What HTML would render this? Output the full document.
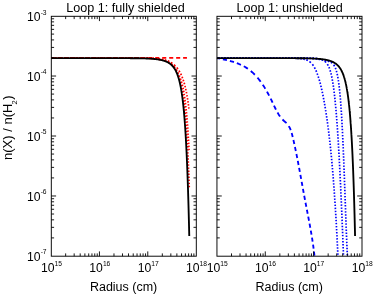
<!DOCTYPE html>
<html><head><meta charset="utf-8"><title>plot</title>
<style>html,body{margin:0;padding:0;background:#fff;}body{width:374px;height:294px;position:relative;overflow:hidden;font-family:"Liberation Sans",sans-serif;}</style>
</head><body>
<svg width="374" height="294" viewBox="0 0 374 294" style="position:absolute;left:0;top:0;will-change:transform">
<rect width="374" height="294" fill="#fff"/>
<g fill="none" stroke-linejoin="round">
<path transform="translate(0 0)" d="M51.30 57.85L52.45 57.85L53.60 57.85L54.75 57.85M57.65 57.85L59.00 57.85L60.35 57.85L61.70 57.85M64.65 57.85L66.00 57.85L67.35 57.85L68.70 57.85M71.60 57.85L72.95 57.85L74.30 57.85L75.65 57.85M78.55 57.85L79.90 57.85L81.25 57.85L82.60 57.85M85.55 57.85L86.90 57.85L88.25 57.85L89.60 57.85M92.50 57.85L93.85 57.85L95.20 57.85L96.55 57.85M99.50 57.85L100.85 57.85L102.20 57.85L103.55 57.85M106.45 57.85L107.80 57.85L109.15 57.85L110.50 57.85M113.40 57.85L114.75 57.85L116.10 57.85L117.45 57.85M120.40 57.85L121.75 57.85L123.10 57.85L124.45 57.85M127.35 57.85L128.70 57.85L130.05 57.85L131.40 57.85M134.35 57.85L135.70 57.85L137.05 57.85L138.40 57.85M141.30 57.85L142.65 57.85L144.00 57.85L145.35 57.85M148.25 57.85L149.60 57.85L150.95 57.85L152.30 57.85M155.25 57.85L156.60 57.85L157.95 57.85L159.30 57.85M162.20 57.85L163.55 57.85L164.90 57.85L166.25 57.85M169.20 57.85L170.55 57.85L171.90 57.85L173.25 57.85M176.15 57.85L177.50 57.85L178.85 57.85L180.20 57.85M183.10 57.85L184.40 57.85L185.70 57.85L186.95 57.85" stroke="#ff0000" stroke-width="1.85"/>
<path transform="translate(0 0)" d="M51.90 57.85L52.40 57.85L52.90 57.85L53.35 57.85M54.95 57.85L55.45 57.85L55.95 57.85L56.40 57.85M58.00 57.85L58.50 57.85L59.00 57.85L59.45 57.85M61.05 57.85L61.55 57.85L62.05 57.85L62.50 57.85M64.10 57.85L64.60 57.85L65.10 57.85L65.55 57.85M67.15 57.85L67.65 57.85L68.15 57.85L68.60 57.85M70.20 57.85L70.70 57.85L71.20 57.85L71.65 57.85M73.25 57.85L73.75 57.85L74.25 57.85L74.70 57.85M76.30 57.85L76.80 57.85L77.30 57.85L77.75 57.85M79.35 57.85L79.85 57.85L80.35 57.85L80.80 57.85M82.40 57.85L82.90 57.85L83.40 57.85L83.85 57.85M85.45 57.85L85.95 57.85L86.45 57.85L86.90 57.85M88.50 57.85L89.00 57.85L89.50 57.85L89.95 57.85M91.55 57.85L92.05 57.85L92.55 57.85L93.00 57.85M94.60 57.85L95.10 57.85L95.60 57.85L96.05 57.85M97.65 57.85L98.15 57.85L98.65 57.85L99.10 57.85M100.70 57.85L101.20 57.85L101.70 57.85L102.15 57.85M103.75 57.85L104.25 57.85L104.75 57.85L105.20 57.85M106.80 57.85L107.30 57.85L107.80 57.85L108.25 57.85M109.85 57.85L110.35 57.85L110.85 57.85L111.30 57.85M112.90 57.85L113.40 57.85L113.90 57.85L114.35 57.85M115.95 57.85L116.45 57.85L116.95 57.85L117.40 57.85M119.00 57.85L119.50 57.85L120.00 57.85L120.45 57.85M122.05 57.85L122.55 57.86L123.05 57.86L123.50 57.86M125.10 57.86L125.60 57.86L126.10 57.86L126.55 57.86M128.15 57.86L128.65 57.86L129.15 57.86L129.60 57.86M131.20 57.87L131.70 57.87L132.20 57.87L132.65 57.87M134.25 57.88L134.75 57.88L135.25 57.88L135.70 57.88M137.30 57.89L137.80 57.89L138.30 57.90L138.75 57.90M140.35 57.91L140.85 57.92L141.35 57.92L141.80 57.93M143.40 57.95L143.90 57.95L144.40 57.96L144.85 57.97M146.45 58.00L146.95 58.01L147.45 58.02L147.90 58.03M149.50 58.08L150.00 58.09L150.50 58.11L150.95 58.13M152.55 58.20L153.05 58.22L153.55 58.25L154.00 58.28M155.60 58.38L156.10 58.42L156.60 58.46L157.05 58.50M158.65 58.67L159.15 58.73L159.65 58.80L160.10 58.86M161.70 59.11L162.20 59.21L162.70 59.30L163.15 59.40M164.75 59.79L165.25 59.94L165.75 60.09L166.20 60.24M167.80 60.84L168.30 61.06L168.80 61.29L169.25 61.52M170.85 62.41L171.35 62.72L171.85 63.05L172.30 63.37M173.90 64.62L174.40 65.07L174.90 65.53L175.35 65.98M176.79 67.58L177.19 68.08L177.58 68.58L177.91 69.03M178.98 70.63L179.28 71.13L179.58 71.63L179.83 72.08M180.67 73.68L180.91 74.18L181.15 74.68L181.35 75.13M182.03 76.73L182.23 77.23L182.42 77.73L182.59 78.18M183.16 79.78L183.33 80.28L183.49 80.78L183.64 81.23M184.12 82.83L184.27 83.33L184.41 83.83L184.53 84.28M184.95 85.88L185.08 86.38L185.20 86.88L185.31 87.33M185.68 88.93L185.79 89.43L185.90 89.93L186.00 90.38M186.33 91.98L186.43 92.48L186.52 92.98L186.61 93.43M186.91 95.03L186.99 95.53L187.08 96.03L187.16 96.48M187.43 98.08L187.51 98.58L187.59 99.08L187.66 99.53M187.91 101.13L187.98 101.63L188.05 102.13L188.12 102.58M188.34 104.18L188.41 104.68L188.48 105.18L188.54 105.63M188.75 107.23L188.81 107.73L188.87 108.23L188.93 108.68" stroke="#ff0000" stroke-width="1.7"/>
<path transform="translate(0 0)" d="M51.90 57.85L52.40 57.85L52.90 57.85L53.35 57.85M54.95 57.85L55.45 57.85L55.95 57.85L56.40 57.85M58.00 57.85L58.50 57.85L59.00 57.85L59.45 57.85M61.05 57.85L61.55 57.85L62.05 57.85L62.50 57.85M64.10 57.85L64.60 57.85L65.10 57.85L65.55 57.85M67.15 57.85L67.65 57.85L68.15 57.85L68.60 57.85M70.20 57.85L70.70 57.85L71.20 57.85L71.65 57.85M73.25 57.85L73.75 57.85L74.25 57.85L74.70 57.85M76.30 57.85L76.80 57.85L77.30 57.85L77.75 57.85M79.35 57.85L79.85 57.85L80.35 57.85L80.80 57.85M82.40 57.85L82.90 57.85L83.40 57.85L83.85 57.85M85.45 57.85L85.95 57.85L86.45 57.85L86.90 57.85M88.50 57.85L89.00 57.85L89.50 57.85L89.95 57.85M91.55 57.85L92.05 57.85L92.55 57.85L93.00 57.85M94.60 57.85L95.10 57.85L95.60 57.85L96.05 57.85M97.65 57.85L98.15 57.85L98.65 57.85L99.10 57.85M100.70 57.85L101.20 57.85L101.70 57.85L102.15 57.85M103.75 57.85L104.25 57.85L104.75 57.85L105.20 57.85M106.80 57.85L107.30 57.85L107.80 57.85L108.25 57.85M109.85 57.85L110.35 57.85L110.85 57.85L111.30 57.85M112.90 57.86L113.40 57.86L113.90 57.86L114.35 57.86M115.95 57.86L116.45 57.86L116.95 57.86L117.40 57.86M119.00 57.86L119.50 57.86L120.00 57.86L120.45 57.86M122.05 57.87L122.55 57.87L123.05 57.87L123.50 57.87M125.10 57.88L125.60 57.88L126.10 57.88L126.55 57.88M128.15 57.89L128.65 57.89L129.15 57.89L129.60 57.89M131.20 57.90L131.70 57.91L132.20 57.91L132.65 57.91M134.25 57.92L134.75 57.93L135.25 57.93L135.70 57.94M137.30 57.96L137.80 57.96L138.30 57.97L138.75 57.98M140.35 58.00L140.85 58.01L141.35 58.02L141.80 58.03M143.40 58.07L143.90 58.08L144.40 58.10L144.85 58.11M146.45 58.17L146.95 58.18L147.45 58.20L147.90 58.22M149.50 58.30L150.00 58.33L150.50 58.36L150.95 58.39M152.55 58.50L153.05 58.54L153.55 58.58L154.00 58.62M155.60 58.78L156.10 58.83L156.60 58.89L157.05 58.95M158.65 59.17L159.15 59.26L159.65 59.34L160.10 59.42M161.70 59.75L162.20 59.86L162.70 59.99L163.15 60.11M164.75 60.59L165.25 60.76L165.75 60.94L166.20 61.12M167.80 61.80L168.30 62.05L168.80 62.31L169.25 62.56M170.85 63.60L171.35 63.98L171.85 64.38L172.30 64.77M173.84 66.34L174.27 66.84L174.66 67.34L175.00 67.79M176.06 69.39L176.36 69.89L176.65 70.39L176.90 70.84M177.71 72.44L177.95 72.94L178.17 73.44L178.36 73.89M179.10 75.49L179.32 75.99L179.53 76.49L179.71 76.94M180.32 78.54L180.50 79.04L180.68 79.54L180.83 79.99M181.35 81.59L181.50 82.09L181.65 82.59L181.78 83.04M182.23 84.64L182.37 85.14L182.50 85.64L182.61 86.09M183.00 87.69L183.12 88.19L183.23 88.69L183.31 89.14M183.61 90.74L183.69 91.24L183.78 91.74L183.86 92.19M184.12 93.79L184.20 94.29L184.28 94.79L184.35 95.24M184.59 96.84L184.66 97.34L184.73 97.84L184.80 98.29M185.01 99.89L185.08 100.39L185.15 100.89L185.20 101.34M185.40 102.94L185.47 103.44L185.53 103.94L185.58 104.39M185.77 105.99L185.82 106.49L185.88 106.99L185.93 107.44M186.10 109.04L186.15 109.54L186.20 110.04L186.25 110.49M186.41 112.09L186.46 112.59L186.51 113.09L186.55 113.54M186.70 115.14L186.75 115.64L186.80 116.14L186.84 116.59M186.98 118.19L187.02 118.69L187.07 119.19L187.10 119.64M187.24 121.24L187.28 121.74L187.32 122.24L187.36 122.69M187.48 124.29L187.52 124.79L187.56 125.29L187.59 125.74M187.71 127.34L187.74 127.84L187.78 128.34L187.81 128.79M187.92 130.39L187.95 130.89L187.98 131.39L188.01 131.84M188.12 133.44L188.15 133.94L188.18 134.44L188.21 134.89M188.30 136.49L188.33 136.99L188.36 137.49L188.39 137.94M188.49 139.54L188.51 140.04L188.54 140.54L188.57 140.99M188.66 142.59L188.69 143.09L188.71 143.59L188.74 144.04M188.82 145.64L188.85 146.14L188.88 146.64L188.90 147.09M188.98 148.69L189.01 149.19L189.04 149.69L189.06 150.14" stroke="#ff0000" stroke-width="1.7"/>
<path transform="translate(0 0)" d="M51.90 57.85L52.40 57.85L52.90 57.85L53.35 57.85M54.95 57.85L55.45 57.85L55.95 57.85L56.40 57.85M58.00 57.85L58.50 57.85L59.00 57.85L59.45 57.85M61.05 57.85L61.55 57.85L62.05 57.85L62.50 57.85M64.10 57.85L64.60 57.85L65.10 57.85L65.55 57.85M67.15 57.85L67.65 57.85L68.15 57.85L68.60 57.85M70.20 57.85L70.70 57.85L71.20 57.85L71.65 57.85M73.25 57.85L73.75 57.85L74.25 57.85L74.70 57.85M76.30 57.85L76.80 57.85L77.30 57.85L77.75 57.85M79.35 57.85L79.85 57.85L80.35 57.85L80.80 57.85M82.40 57.85L82.90 57.85L83.40 57.85L83.85 57.85M85.45 57.85L85.95 57.85L86.45 57.85L86.90 57.85M88.50 57.85L89.00 57.85L89.50 57.85L89.95 57.85M91.55 57.85L92.05 57.85L92.55 57.85L93.00 57.85M94.60 57.85L95.10 57.85L95.60 57.85L96.05 57.85M97.65 57.85L98.15 57.85L98.65 57.85L99.10 57.85M100.70 57.85L101.20 57.85L101.70 57.85L102.15 57.85M103.75 57.85L104.25 57.85L104.75 57.85L105.20 57.85M106.80 57.85L107.30 57.85L107.80 57.85L108.25 57.85M109.85 57.85L110.35 57.85L110.85 57.85L111.30 57.85M112.90 57.86L113.40 57.86L113.90 57.86L114.35 57.86M115.95 57.86L116.45 57.86L116.95 57.86L117.40 57.86M119.00 57.86L119.50 57.86L120.00 57.86L120.45 57.86M122.05 57.87L122.55 57.87L123.05 57.87L123.50 57.87M125.10 57.88L125.60 57.88L126.10 57.88L126.55 57.88M128.15 57.89L128.65 57.89L129.15 57.89L129.60 57.89M131.20 57.90L131.70 57.91L132.20 57.91L132.65 57.91M134.25 57.93L134.75 57.93L135.25 57.93L135.70 57.94M137.30 57.96L137.80 57.96L138.30 57.97L138.75 57.98M140.35 58.01L140.85 58.01L141.35 58.02L141.80 58.03M143.40 58.07L143.90 58.09L144.40 58.10L144.85 58.11M146.45 58.17L146.95 58.19L147.45 58.21L147.90 58.23M149.50 58.31L150.00 58.34L150.50 58.37L150.95 58.39M152.55 58.51L153.05 58.55L153.55 58.59L154.00 58.63M155.60 58.80L156.10 58.85L156.60 58.91L157.05 58.97M158.65 59.21L159.15 59.29L159.65 59.38L160.10 59.46M161.70 59.80L162.20 59.92L162.70 60.05L163.15 60.17M164.75 60.67L165.25 60.85L165.75 61.04L166.20 61.22M167.80 61.95L168.30 62.21L168.80 62.49L169.25 62.77M170.85 63.89L171.35 64.30L171.85 64.74L172.30 65.17M173.74 66.77L174.13 67.27L174.49 67.77L174.80 68.22M175.79 69.82L176.07 70.32L176.34 70.82L176.57 71.27M177.33 72.87L177.55 73.37L177.76 73.87L177.94 74.32M178.56 75.92L178.74 76.42L178.91 76.92L179.07 77.37M179.57 78.97L179.72 79.47L179.87 79.97L180.00 80.42M180.42 82.02L180.55 82.52L180.68 83.02L180.79 83.47M181.16 85.07L181.27 85.57L181.37 86.07L181.47 86.52M181.80 88.12L181.89 88.62L181.99 89.12L182.07 89.57M182.36 91.17L182.44 91.67L182.53 92.17L182.60 92.62M182.86 94.22L182.94 94.72L183.01 95.22L183.08 95.67M183.31 97.27L183.38 97.77L183.45 98.27L183.51 98.72M183.73 100.32L183.79 100.82L183.85 101.32L183.91 101.77M184.11 103.37L184.17 103.87L184.22 104.37L184.28 104.82M184.46 106.42L184.51 106.92L184.57 107.42L184.62 107.87M184.78 109.47L184.83 109.97L184.89 110.47L184.93 110.92M185.09 112.52L185.14 113.02L185.18 113.52L185.23 113.97M185.37 115.57L185.42 116.07L185.46 116.57L185.50 117.02M185.64 118.62L185.68 119.12L185.72 119.62L185.76 120.07M185.89 121.67L185.93 122.17L185.97 122.67L186.01 123.12M186.13 124.72L186.17 125.22L186.21 125.72L186.24 126.17M186.36 127.77L186.39 128.27L186.43 128.77L186.46 129.22M186.57 130.82L186.61 131.32L186.64 131.82L186.67 132.27M186.78 133.87L186.81 134.37L186.84 134.87L186.87 135.32M186.97 136.92L187.01 137.42L187.04 137.92L187.06 138.37M187.16 139.97L187.19 140.47L187.22 140.97L187.25 141.42M187.34 143.02L187.37 143.52L187.40 144.02L187.42 144.47M187.51 146.07L187.54 146.57L187.57 147.07L187.59 147.52M187.68 149.12L187.70 149.62L187.73 150.12L187.75 150.57M187.84 152.17L187.86 152.67L187.89 153.17L187.91 153.62M187.99 155.22L188.01 155.72L188.04 156.22L188.06 156.67M188.14 158.27L188.16 158.77L188.18 159.27L188.20 159.72M188.27 161.32L188.29 161.82L188.32 162.32L188.33 162.77M188.40 164.37L188.42 164.87L188.44 165.37L188.46 165.82M188.53 167.42L188.55 167.92L188.57 168.42L188.59 168.87M188.65 170.47L188.67 170.97L188.69 171.47L188.71 171.92M188.77 173.52L188.79 174.02L188.81 174.52L188.83 174.97M188.89 176.57L188.90 177.07L188.92 177.57L188.94 178.02M189.00 179.62L189.02 180.12L189.03 180.62L189.05 181.07M189.11 182.67L189.12 183.17L189.14 183.67L189.16 184.12M189.21 185.72L189.23 186.22L189.25 186.72L189.26 187.17" stroke="#ff0000" stroke-width="1.7"/>
<path d="M51.30 58.15 L51.32 58.15 L51.58 58.15 L51.83 58.15 L52.09 58.15 L52.35 58.15 L52.61 58.15 L52.87 58.15 L53.13 58.15 L53.39 58.15 L53.65 58.15 L53.91 58.15 L54.17 58.15 L54.43 58.15 L54.69 58.15 L54.95 58.15 L55.20 58.15 L55.46 58.15 L55.72 58.15 L55.98 58.15 L56.24 58.15 L56.50 58.15 L56.76 58.15 L57.02 58.15 L57.28 58.15 L57.54 58.15 L57.80 58.15 L58.06 58.15 L58.31 58.15 L58.57 58.15 L58.83 58.15 L59.09 58.15 L59.35 58.15 L59.61 58.15 L59.87 58.15 L60.13 58.15 L60.39 58.15 L60.65 58.15 L60.91 58.15 L61.17 58.15 L61.42 58.15 L61.68 58.15 L61.94 58.15 L62.20 58.15 L62.46 58.15 L62.72 58.15 L62.98 58.15 L63.24 58.15 L63.50 58.15 L63.76 58.15 L64.02 58.15 L64.28 58.15 L64.54 58.15 L64.79 58.15 L65.05 58.15 L65.31 58.15 L65.57 58.15 L65.83 58.15 L66.09 58.15 L66.35 58.15 L66.61 58.15 L66.87 58.15 L67.13 58.15 L67.39 58.15 L67.65 58.15 L67.90 58.15 L68.16 58.15 L68.42 58.15 L68.68 58.15 L68.94 58.15 L69.20 58.15 L69.46 58.15 L69.72 58.15 L69.98 58.15 L70.24 58.15 L70.50 58.15 L70.76 58.15 L71.01 58.15 L71.27 58.15 L71.53 58.15 L71.79 58.15 L72.05 58.15 L72.31 58.15 L72.57 58.15 L72.83 58.15 L73.09 58.15 L73.35 58.15 L73.61 58.15 L73.87 58.15 L74.12 58.15 L74.38 58.15 L74.64 58.15 L74.90 58.15 L75.16 58.15 L75.42 58.15 L75.68 58.15 L75.94 58.15 L76.20 58.15 L76.46 58.15 L76.72 58.15 L76.98 58.15 L77.24 58.15 L77.49 58.15 L77.75 58.15 L78.01 58.15 L78.27 58.15 L78.53 58.15 L78.79 58.15 L79.05 58.15 L79.31 58.15 L79.57 58.15 L79.83 58.15 L80.09 58.15 L80.35 58.15 L80.60 58.15 L80.86 58.15 L81.12 58.15 L81.38 58.15 L81.64 58.15 L81.90 58.15 L82.16 58.15 L82.42 58.15 L82.68 58.15 L82.94 58.15 L83.20 58.15 L83.46 58.15 L83.71 58.15 L83.97 58.15 L84.23 58.15 L84.49 58.15 L84.75 58.15 L85.01 58.15 L85.27 58.15 L85.53 58.15 L85.79 58.15 L86.05 58.15 L86.31 58.15 L86.57 58.15 L86.82 58.15 L87.08 58.15 L87.34 58.15 L87.60 58.15 L87.86 58.15 L88.12 58.15 L88.38 58.15 L88.64 58.15 L88.90 58.15 L89.16 58.15 L89.42 58.15 L89.68 58.15 L89.94 58.15 L90.19 58.15 L90.45 58.15 L90.71 58.15 L90.97 58.15 L91.23 58.15 L91.49 58.15 L91.75 58.15 L92.01 58.15 L92.27 58.15 L92.53 58.15 L92.79 58.15 L93.05 58.15 L93.30 58.15 L93.56 58.15 L93.82 58.15 L94.08 58.15 L94.34 58.15 L94.60 58.15 L94.86 58.15 L95.12 58.15 L95.38 58.15 L95.64 58.15 L95.90 58.15 L96.16 58.15 L96.41 58.15 L96.67 58.15 L96.93 58.15 L97.19 58.15 L97.45 58.15 L97.71 58.15 L97.97 58.15 L98.23 58.15 L98.49 58.15 L98.75 58.15 L99.01 58.15 L99.27 58.15 L99.52 58.15 L99.78 58.15 L100.04 58.15 L100.30 58.15 L100.56 58.15 L100.82 58.15 L101.08 58.15 L101.34 58.15 L101.60 58.15 L101.86 58.15 L102.12 58.15 L102.38 58.15 L102.64 58.15 L102.89 58.15 L103.15 58.15 L103.41 58.15 L103.67 58.15 L103.93 58.15 L104.19 58.15 L104.45 58.15 L104.71 58.15 L104.97 58.15 L105.23 58.15 L105.49 58.15 L105.75 58.15 L106.00 58.15 L106.26 58.15 L106.52 58.15 L106.78 58.15 L107.04 58.15 L107.30 58.15 L107.56 58.15 L107.82 58.15 L108.08 58.15 L108.34 58.15 L108.60 58.15 L108.86 58.15 L109.11 58.15 L109.37 58.15 L109.63 58.15 L109.89 58.15 L110.15 58.15 L110.41 58.15 L110.67 58.15 L110.93 58.15 L111.19 58.15 L111.45 58.15 L111.71 58.16 L111.97 58.16 L112.23 58.16 L112.48 58.16 L112.74 58.16 L113.00 58.16 L113.26 58.16 L113.52 58.16 L113.78 58.16 L114.04 58.16 L114.30 58.16 L114.56 58.16 L114.82 58.16 L115.08 58.16 L115.34 58.16 L115.59 58.16 L115.85 58.16 L116.11 58.16 L116.37 58.16 L116.63 58.16 L116.89 58.16 L117.15 58.16 L117.41 58.16 L117.67 58.16 L117.93 58.16 L118.19 58.16 L118.45 58.16 L118.70 58.16 L118.96 58.16 L119.22 58.16 L119.48 58.16 L119.74 58.16 L120.00 58.16 L120.26 58.16 L120.52 58.16 L120.78 58.17 L121.04 58.17 L121.30 58.17 L121.56 58.17 L121.81 58.17 L122.07 58.17 L122.33 58.17 L122.59 58.17 L122.85 58.17 L123.11 58.17 L123.37 58.17 L123.63 58.17 L123.89 58.17 L124.15 58.17 L124.41 58.17 L124.67 58.17 L124.93 58.17 L125.18 58.18 L125.44 58.18 L125.70 58.18 L125.96 58.18 L126.22 58.18 L126.48 58.18 L126.74 58.18 L127.00 58.18 L127.26 58.18 L127.52 58.18 L127.78 58.18 L128.04 58.19 L128.29 58.19 L128.55 58.19 L128.81 58.19 L129.07 58.19 L129.33 58.19 L129.59 58.19 L129.85 58.19 L130.11 58.20 L130.37 58.20 L130.63 58.20 L130.89 58.20 L131.15 58.20 L131.40 58.20 L131.66 58.21 L131.92 58.21 L132.18 58.21 L132.44 58.21 L132.70 58.21 L132.96 58.21 L133.22 58.22 L133.48 58.22 L133.74 58.22 L134.00 58.22 L134.26 58.23 L134.51 58.23 L134.77 58.23 L135.03 58.23 L135.29 58.24 L135.55 58.24 L135.81 58.24 L136.07 58.24 L136.33 58.25 L136.59 58.25 L136.85 58.25 L137.11 58.26 L137.37 58.26 L137.63 58.26 L137.88 58.27 L138.14 58.27 L138.40 58.27 L138.66 58.28 L138.92 58.28 L139.18 58.29 L139.44 58.29 L139.70 58.29 L139.96 58.30 L140.22 58.30 L140.48 58.31 L140.74 58.31 L140.99 58.32 L141.25 58.32 L141.51 58.33 L141.77 58.34 L142.03 58.34 L142.29 58.35 L142.55 58.35 L142.81 58.36 L143.07 58.37 L143.33 58.37 L143.59 58.38 L143.85 58.39 L144.10 58.40 L144.36 58.40 L144.62 58.41 L144.88 58.42 L145.14 58.43 L145.40 58.44 L145.66 58.45 L145.92 58.45 L146.18 58.46 L146.44 58.47 L146.70 58.48 L146.96 58.49 L147.22 58.51 L147.47 58.52 L147.73 58.53 L147.99 58.54 L148.25 58.55 L148.51 58.56 L148.77 58.58 L149.03 58.59 L149.29 58.60 L149.55 58.62 L149.81 58.63 L150.07 58.65 L150.33 58.66 L150.58 58.68 L150.84 58.70 L151.10 58.71 L151.36 58.73 L151.62 58.75 L151.88 58.77 L152.14 58.79 L152.40 58.81 L152.66 58.83 L152.92 58.85 L153.18 58.87 L153.44 58.90 L153.69 58.92 L153.95 58.94 L154.21 58.97 L154.47 58.99 L154.73 59.02 L154.99 59.05 L155.25 59.08 L155.51 59.11 L155.77 59.14 L156.03 59.17 L156.29 59.20 L156.55 59.23 L156.80 59.27 L157.06 59.30 L157.32 59.34 L157.58 59.37 L157.84 59.41 L158.10 59.45 L158.36 59.49 L158.62 59.53 L158.88 59.58 L159.14 59.62 L159.40 59.67 L159.66 59.72 L159.92 59.77 L160.17 59.82 L160.43 59.87 L160.69 59.92 L160.95 59.98 L161.21 60.03 L161.47 60.09 L161.73 60.15 L161.99 60.22 L162.25 60.28 L162.51 60.35 L162.77 60.42 L163.03 60.49 L163.28 60.56 L163.54 60.64 L163.80 60.72 L164.06 60.80 L164.32 60.88 L164.58 60.97 L164.84 61.06 L165.10 61.15 L165.36 61.25 L165.62 61.35 L165.88 61.45 L166.14 61.56 L166.39 61.67 L166.65 61.78 L166.91 61.90 L167.17 62.02 L167.43 62.15 L167.69 62.28 L167.95 62.42 L168.21 62.56 L168.47 62.71 L168.73 62.87 L168.99 63.03 L169.25 63.19 L169.50 63.36 L169.76 63.54 L170.02 63.73 L170.28 63.93 L170.54 64.13 L170.80 64.34 L171.06 64.56 L171.32 64.79 L171.58 65.03 L171.84 65.28 L172.10 65.54 L172.36 65.81 L172.59 66.07 L172.83 66.33 L173.06 66.61 L173.27 66.87 L173.49 67.14 L173.70 67.42 L173.89 67.68 L174.08 67.95 L174.26 68.22 L174.45 68.50 L174.62 68.76 L174.78 69.03 L174.95 69.30 L175.11 69.58 L175.28 69.87 L175.42 70.12 L175.56 70.38 L175.70 70.65 L175.84 70.93 L175.98 71.21 L176.13 71.50 L176.27 71.80 L176.39 72.05 L176.50 72.31 L176.62 72.58 L176.74 72.85 L176.86 73.13 L176.97 73.41 L177.09 73.70 L177.21 74.00 L177.33 74.31 L177.45 74.62 L177.54 74.87 L177.63 75.13 L177.73 75.40 L177.82 75.67 L177.92 75.94 L178.01 76.22 L178.11 76.50 L178.20 76.79 L178.29 77.09 L178.39 77.39 L178.48 77.70 L178.58 78.01 L178.67 78.33 L178.76 78.65 L178.86 78.99 L178.93 79.24 L179.00 79.50 L179.07 79.76 L179.14 80.02 L179.21 80.29 L179.28 80.56 L179.35 80.84 L179.42 81.11 L179.50 81.40 L179.57 81.69 L179.64 81.98 L179.71 82.28 L179.78 82.58 L179.85 82.88 L179.92 83.19 L179.99 83.51 L180.06 83.83 L180.13 84.15 L180.20 84.48 L180.27 84.82 L180.34 85.16 L180.41 85.50 L180.48 85.85 L180.56 86.21 L180.63 86.57 L180.70 86.94 L180.77 87.31 L180.81 87.56 L180.86 87.81 L180.91 88.07 L180.96 88.33 L181.00 88.59 L181.05 88.85 L181.10 89.12 L181.14 89.39 L181.19 89.66 L181.24 89.94 L181.29 90.22 L181.33 90.50 L181.38 90.79 L181.43 91.07 L181.47 91.36 L181.52 91.66 L181.57 91.95 L181.62 92.25 L181.66 92.56 L181.71 92.86 L181.76 93.17 L181.80 93.48 L181.85 93.80 L181.90 94.12 L181.95 94.44 L181.99 94.77 L182.04 95.10 L182.09 95.43 L182.13 95.77 L182.18 96.11 L182.23 96.45 L182.28 96.80 L182.32 97.15 L182.37 97.51 L182.42 97.87 L182.46 98.23 L182.51 98.59 L182.56 98.97 L182.61 99.34 L182.65 99.72 L182.70 100.10 L182.75 100.49 L182.79 100.88 L182.84 101.28 L182.89 101.68 L182.94 102.08 L182.98 102.49 L183.03 102.91 L183.08 103.32 L183.12 103.75 L183.17 104.17 L183.22 104.61 L183.27 105.04 L183.31 105.49 L183.36 105.93 L183.41 106.38 L183.45 106.84 L183.50 107.30 L183.55 107.77 L183.60 108.24 L183.64 108.72 L183.69 109.20 L183.74 109.69 L183.78 110.19 L183.83 110.69 L183.85 110.94 L183.88 111.19 L183.90 111.45 L183.93 111.70 L183.95 111.96 L183.97 112.22 L184.00 112.48 L184.02 112.74 L184.04 113.01 L184.07 113.27 L184.09 113.54 L184.11 113.81 L184.14 114.08 L184.16 114.35 L184.18 114.62 L184.21 114.89 L184.23 115.17 L184.25 115.45 L184.28 115.73 L184.30 116.01 L184.33 116.29 L184.35 116.57 L184.37 116.86 L184.40 117.15 L184.42 117.44 L184.44 117.73 L184.47 118.02 L184.49 118.31 L184.51 118.61 L184.54 118.91 L184.56 119.20 L184.58 119.51 L184.61 119.81 L184.63 120.11 L184.66 120.42 L184.68 120.73 L184.70 121.04 L184.73 121.35 L184.75 121.66 L184.77 121.98 L184.80 122.29 L184.82 122.61 L184.84 122.93 L184.87 123.25 L184.89 123.58 L184.91 123.90 L184.94 124.23 L184.96 124.56 L184.99 124.89 L185.01 125.23 L185.03 125.56 L185.06 125.90 L185.08 126.24 L185.10 126.58 L185.13 126.93 L185.15 127.27 L185.17 127.62 L185.20 127.97 L185.22 128.32 L185.24 128.68 L185.27 129.03 L185.29 129.39 L185.32 129.75 L185.34 130.12 L185.36 130.48 L185.39 130.85 L185.41 131.22 L185.43 131.59 L185.46 131.96 L185.48 132.34 L185.50 132.71 L185.53 133.09 L185.55 133.48 L185.57 133.86 L185.60 134.25 L185.62 134.64 L185.65 135.03 L185.67 135.42 L185.69 135.82 L185.72 136.22 L185.74 136.62 L185.76 137.02 L185.79 137.43 L185.81 137.84 L185.83 138.25 L185.86 138.66 L185.88 139.08 L185.90 139.50 L185.93 139.92 L185.95 140.34 L185.97 140.77 L186.00 141.20 L186.02 141.63 L186.05 142.06 L186.07 142.50 L186.09 142.94 L186.12 143.38 L186.14 143.82 L186.16 144.27 L186.19 144.72 L186.21 145.17 L186.23 145.63 L186.26 146.09 L186.28 146.55 L186.30 147.01 L186.33 147.48 L186.35 147.95 L186.38 148.42 L186.40 148.90 L186.42 149.37 L186.45 149.86 L186.47 150.34 L186.49 150.83 L186.52 151.32 L186.54 151.81 L186.56 152.31 L186.59 152.80 L186.61 153.31 L186.63 153.81 L186.66 154.32 L186.68 154.83 L186.71 155.35 L186.73 155.87 L186.75 156.39 L186.78 156.91 L186.80 157.44 L186.82 157.97 L186.85 158.50 L186.87 159.04 L186.89 159.58 L186.92 160.13 L186.94 160.68 L186.96 161.23 L186.99 161.78 L187.01 162.34 L187.04 162.90 L187.06 163.47 L187.08 164.03 L187.11 164.61 L187.13 165.18 L187.15 165.76 L187.18 166.34 L187.20 166.93 L187.22 167.52 L187.25 168.12 L187.27 168.71 L187.29 169.32 L187.32 169.92 L187.34 170.53 L187.37 171.14 L187.39 171.76 L187.41 172.38 L187.44 173.01 L187.46 173.64 L187.48 174.27 L187.51 174.91 L187.53 175.55 L187.55 176.19 L187.58 176.84 L187.60 177.49 L187.62 178.15 L187.65 178.81 L187.67 179.48 L187.69 180.15 L187.72 180.82 L187.74 181.50 L187.77 182.18 L187.79 182.87 L187.81 183.56 L187.84 184.26 L187.86 184.96 L187.88 185.67 L187.91 186.38 L187.93 187.09 L187.95 187.81 L187.98 188.53 L188.00 189.26 L188.02 189.99 L188.05 190.73 L188.07 191.47 L188.10 192.22 L188.12 192.97 L188.14 193.73 L188.17 194.49 L188.19 195.26 L188.21 196.03 L188.24 196.81 L188.26 197.59 L188.28 198.38 L188.31 199.17 L188.33 199.97 L188.35 200.77 L188.38 201.58 L188.40 202.39 L188.43 203.21 L188.45 204.03 L188.47 204.86 L188.50 205.70 L188.52 206.54 L188.54 207.38 L188.57 208.23 L188.59 209.09 L188.61 209.95 L188.64 210.82 L188.66 211.69 L188.68 212.57 L188.71 213.46 L188.73 214.35 L188.76 215.25 L188.78 216.15 L188.80 217.06 L188.83 217.97 L188.85 218.90 L188.87 219.82 L188.90 220.76 L188.92 221.70 L188.94 222.64 L188.97 223.59 L188.99 224.55 L189.01 225.52 L189.04 226.49 L189.06 227.47 L189.09 228.45 L189.11 229.44 L189.13 230.44 L189.16 231.44 L189.18 232.45 L189.20 233.47 L189.23 234.50 L189.25 235.53 L189.26 236.00" stroke="#000" stroke-width="1.85"/>
<path d="M217.00 58.05L218.00 58.24L219.00 58.44L220.00 58.63M222.90 59.24L224.25 59.53L225.60 59.84L226.95 60.16M229.90 60.92L231.25 61.30L232.60 61.70L233.95 62.13M236.85 63.14L238.20 63.67L239.55 64.23L240.90 64.83M243.80 66.28L245.15 67.05L246.50 67.88L247.85 68.78M250.80 71.03L252.15 72.19L253.50 73.44L254.84 74.77M257.48 77.67L258.60 79.02L259.66 80.37L260.68 81.72M262.74 84.67L263.63 86.02L264.48 87.37L265.30 88.72M266.99 91.62L267.73 92.97L268.46 94.32L269.17 95.67M270.64 98.57L271.30 99.92L271.95 101.27L272.59 102.62M273.98 105.57L274.62 106.92L275.28 108.27L275.96 109.62M277.52 112.52L278.31 113.87L279.14 115.22L280.05 116.57M282.48 119.52L283.83 120.77L285.18 121.93L286.53 123.18M288.80 126.08L289.56 127.43L290.20 128.78L290.74 130.13M291.68 133.03L292.05 134.38L292.39 135.73L292.72 137.08M293.41 140.03L293.72 141.38L294.02 142.73L294.33 144.08M294.96 146.98L295.25 148.33L295.53 149.68L295.82 151.03M296.42 153.98L296.69 155.33L296.96 156.68L297.23 158.03M297.80 160.93L298.05 162.28L298.31 163.63L298.57 164.98M299.11 167.88L299.36 169.23L299.61 170.58L299.86 171.93M300.40 174.88L300.64 176.23L300.89 177.58L301.13 178.93M301.66 181.83L301.90 183.18L302.15 184.53L302.39 185.88M302.93 188.83L303.18 190.18L303.42 191.53L303.67 192.88M304.21 195.78L304.47 197.13L304.72 198.48L304.98 199.83M305.53 202.73L305.79 204.08L306.05 205.43L306.32 206.78M306.89 209.73L307.15 211.08L307.41 212.43L307.67 213.78M308.23 216.68L308.49 218.03L308.75 219.38L309.00 220.73M309.56 223.68L309.80 225.03L310.05 226.38L310.30 227.73M310.81 230.63L311.05 231.98L311.28 233.33L311.51 234.68M311.98 237.58L312.20 238.93L312.41 240.28L312.62 241.63M313.05 244.58L313.24 245.93L313.43 247.28L313.61 248.63M313.97 251.53L314.14 252.88L314.29 254.23L314.44 255.58" stroke="#0000ff" stroke-width="1.85"/>
<path transform="translate(0 0)" d="M217.95 57.85L218.45 57.85L218.95 57.85L219.40 57.85M221.00 57.85L221.50 57.85L222.00 57.85L222.45 57.85M224.05 57.85L224.55 57.85L225.05 57.85L225.50 57.85M227.10 57.85L227.60 57.85L228.10 57.85L228.55 57.85M230.15 57.85L230.65 57.85L231.15 57.85L231.60 57.85M233.20 57.85L233.70 57.85L234.20 57.85L234.65 57.85M236.25 57.85L236.75 57.85L237.25 57.85L237.70 57.85M239.30 57.85L239.80 57.85L240.30 57.85L240.75 57.85M242.35 57.85L242.85 57.85L243.35 57.85L243.80 57.85M245.40 57.85L245.90 57.85L246.40 57.85L246.85 57.85M248.45 57.85L248.95 57.85L249.45 57.85L249.90 57.85M251.50 57.85L252.00 57.85L252.50 57.85L252.95 57.85M254.55 57.85L255.05 57.85L255.55 57.85L256.00 57.85M257.60 57.85L258.10 57.85L258.60 57.85L259.05 57.85M260.65 57.86L261.15 57.86L261.65 57.86L262.10 57.86M263.70 57.86L264.20 57.86L264.70 57.86L265.15 57.86M266.75 57.86L267.25 57.86L267.75 57.86L268.20 57.86M269.80 57.87L270.30 57.87L270.80 57.87L271.25 57.87M272.85 57.88L273.35 57.88L273.85 57.88L274.30 57.88M275.90 57.89L276.40 57.89L276.90 57.89L277.35 57.90M278.95 57.91L279.45 57.91L279.95 57.92L280.40 57.92M282.00 57.94L282.50 57.94L283.00 57.95L283.45 57.95M285.05 57.98L285.55 57.98L286.05 57.99L286.50 58.00M288.10 58.03L288.60 58.05L289.10 58.06L289.55 58.07M291.15 58.12L291.65 58.14L292.15 58.16L292.60 58.18M294.20 58.25L294.70 58.27L295.20 58.30L295.65 58.33M297.25 58.44L297.75 58.47L298.25 58.52L298.70 58.55M300.30 58.71L300.80 58.77L301.30 58.83L301.75 58.89M303.35 59.12L303.85 59.21L304.35 59.31L304.80 59.41M306.40 59.89L306.90 60.09L307.40 60.30L307.85 60.52M309.45 61.49L309.95 61.86L310.45 62.28L310.90 62.69M312.35 64.28L312.74 64.78L313.10 65.28L313.40 65.73M314.38 67.33L314.66 67.83L314.92 68.33L315.15 68.78M315.90 70.38L316.12 70.88L316.34 71.38L316.52 71.83M317.15 73.43L317.34 73.93L317.52 74.43L317.68 74.88M318.22 76.48L318.39 76.98L318.54 77.48L318.69 77.93M319.17 79.53L319.31 80.03L319.46 80.53L319.59 80.98M320.02 82.58L320.16 83.08L320.29 83.58L320.40 84.03M320.81 85.63L320.93 86.13L321.05 86.63L321.16 87.08M321.53 88.68L321.64 89.18L321.76 89.68L321.86 90.13M322.21 91.73L322.31 92.23L322.42 92.73L322.52 93.18M322.85 94.78L322.95 95.28L323.05 95.78L323.14 96.23M323.45 97.83L323.54 98.33L323.64 98.83L323.72 99.28M324.02 100.88L324.11 101.38L324.20 101.88L324.28 102.33M324.57 103.93L324.65 104.43L324.74 104.93L324.82 105.38M325.09 106.98L325.17 107.48L325.25 107.98L325.33 108.43M325.59 110.03L325.67 110.53L325.75 111.03L325.82 111.48M326.07 113.08L326.15 113.58L326.22 114.08L326.29 114.53M326.53 116.13L326.60 116.63L326.68 117.13L326.74 117.58M326.98 119.18L327.05 119.68L327.12 120.18L327.18 120.63M327.40 122.23L327.47 122.73L327.54 123.23L327.60 123.68M327.82 125.28L327.88 125.78L327.95 126.28L328.01 126.73M328.22 128.33L328.28 128.83L328.35 129.33L328.40 129.78M328.60 131.38L328.67 131.88L328.73 132.38L328.78 132.83M328.98 134.43L329.04 134.93L329.10 135.43L329.15 135.88M329.34 137.48L329.40 137.98L329.46 138.48L329.51 138.93M329.69 140.53L329.75 141.03L329.80 141.53L329.85 141.98M330.03 143.58L330.08 144.08L330.14 144.58L330.19 145.03M330.36 146.63L330.41 147.13L330.46 147.63L330.51 148.08M330.68 149.68L330.73 150.18L330.78 150.68L330.83 151.13M330.99 152.73L331.04 153.23L331.09 153.73L331.13 154.18M331.29 155.78L331.34 156.28L331.38 156.78L331.43 157.23M331.58 158.83L331.63 159.33L331.67 159.83L331.72 160.28M331.86 161.88L331.91 162.38L331.96 162.88L332.00 163.33M332.14 164.93L332.18 165.43L332.23 165.93L332.27 166.38M332.41 167.98L332.45 168.48L332.49 168.98L332.53 169.43M332.67 171.03L332.71 171.53L332.75 172.03L332.79 172.48M332.92 174.08L332.96 174.58L333.00 175.08L333.04 175.53M333.17 177.13L333.21 177.63L333.25 178.13L333.29 178.58M333.41 180.18L333.45 180.68L333.49 181.18L333.52 181.63M333.65 183.23L333.68 183.73L333.72 184.23L333.76 184.68M333.87 186.28L333.91 186.78L333.95 187.28L333.98 187.73M334.10 189.33L334.13 189.83L334.17 190.33L334.20 190.78M334.32 192.38L334.35 192.88L334.39 193.38L334.42 193.83M334.53 195.43L334.56 195.93L334.60 196.43L334.63 196.88M334.74 198.48L334.77 198.98L334.80 199.48L334.83 199.93M334.94 201.53L334.97 202.03L335.00 202.53L335.03 202.98M335.14 204.58L335.17 205.08L335.20 205.58L335.23 206.03M335.33 207.63L335.36 208.13L335.39 208.63L335.42 209.08M335.52 210.68L335.55 211.18L335.58 211.68L335.61 212.13M335.71 213.73L335.74 214.23L335.77 214.73L335.79 215.18M335.89 216.78L335.92 217.28L335.95 217.78L335.97 218.23M336.07 219.83L336.10 220.33L336.12 220.83L336.15 221.28M336.24 222.88L336.27 223.38L336.30 223.88L336.32 224.33M336.41 225.93L336.44 226.43L336.47 226.93L336.49 227.38M336.58 228.98L336.61 229.48L336.63 229.98L336.66 230.43M336.74 232.03L336.77 232.53L336.80 233.03L336.82 233.48M336.90 235.08L336.93 235.58L336.96 236.08L336.98 236.53M337.06 238.13L337.09 238.63L337.11 239.13L337.14 239.58M337.22 241.18L337.24 241.68L337.27 242.18L337.29 242.63M337.37 244.23L337.40 244.73L337.42 245.23L337.44 245.68M337.52 247.28L337.54 247.78L337.57 248.28L337.59 248.73M337.67 250.33L337.69 250.83L337.71 251.33L337.74 251.78M337.81 253.38L337.84 253.88L337.86 254.38L337.88 254.83" stroke="#0000ff" stroke-width="1.7"/>
<path transform="translate(0 0)" d="M217.95 57.85L218.45 57.85L218.95 57.85L219.40 57.85M221.00 57.85L221.50 57.85L222.00 57.85L222.45 57.85M224.05 57.85L224.55 57.85L225.05 57.85L225.50 57.85M227.10 57.85L227.60 57.85L228.10 57.85L228.55 57.85M230.15 57.85L230.65 57.85L231.15 57.85L231.60 57.85M233.20 57.85L233.70 57.85L234.20 57.85L234.65 57.85M236.25 57.85L236.75 57.85L237.25 57.85L237.70 57.85M239.30 57.85L239.80 57.85L240.30 57.85L240.75 57.85M242.35 57.85L242.85 57.85L243.35 57.85L243.80 57.85M245.40 57.85L245.90 57.85L246.40 57.85L246.85 57.85M248.45 57.85L248.95 57.85L249.45 57.85L249.90 57.85M251.50 57.85L252.00 57.85L252.50 57.85L252.95 57.85M254.55 57.85L255.05 57.85L255.55 57.85L256.00 57.85M257.60 57.85L258.10 57.85L258.60 57.85L259.05 57.85M260.65 57.85L261.15 57.85L261.65 57.85L262.10 57.85M263.70 57.85L264.20 57.85L264.70 57.85L265.15 57.85M266.75 57.85L267.25 57.85L267.75 57.85L268.20 57.85M269.80 57.85L270.30 57.85L270.80 57.85L271.25 57.85M272.85 57.85L273.35 57.85L273.85 57.85L274.30 57.85M275.90 57.85L276.40 57.85L276.90 57.85L277.35 57.85M278.95 57.85L279.45 57.85L279.95 57.85L280.40 57.85M282.00 57.85L282.50 57.85L283.00 57.85L283.45 57.85M285.05 57.85L285.55 57.85L286.05 57.85L286.50 57.85M288.10 57.85L288.60 57.85L289.10 57.85L289.55 57.85M291.15 57.85L291.65 57.85L292.15 57.85L292.60 57.85M294.20 57.86L294.70 57.86L295.20 57.86L295.65 57.86M297.25 57.86L297.75 57.86L298.25 57.86L298.70 57.86M300.30 57.87L300.80 57.87L301.30 57.87L301.75 57.88M303.35 57.89L303.85 57.89L304.35 57.90L304.80 57.90M306.40 57.92L306.90 57.93L307.40 57.94L307.85 57.95M309.45 57.98L309.95 58.00L310.45 58.02L310.90 58.03M312.50 58.11L313.00 58.13L313.50 58.17L313.95 58.20M315.55 58.34L316.05 58.39L316.55 58.45L317.00 58.51M318.60 58.78L319.10 58.88L319.60 58.99L320.05 59.11M321.65 59.61L322.15 59.81L322.65 60.02L323.10 60.24M324.70 61.20L325.20 61.59L325.70 62.04L326.13 62.49M327.36 64.09L327.67 64.59L327.95 65.09L328.19 65.54M328.93 67.14L329.14 67.64L329.34 68.14L329.50 68.59M330.04 70.19L330.20 70.69L330.35 71.19L330.48 71.64M330.91 73.24L331.03 73.74L331.16 74.24L331.26 74.69M331.62 76.29L331.73 76.79L331.83 77.29L331.92 77.74M332.23 79.34L332.32 79.84L332.41 80.34L332.49 80.79M332.76 82.39L332.84 82.89L332.92 83.39L333.00 83.84M333.24 85.44L333.31 85.94L333.39 86.44L333.45 86.89M333.67 88.49L333.74 88.99L333.81 89.49L333.86 89.94M334.07 91.54L334.13 92.04L334.19 92.54L334.25 92.99M334.43 94.59L334.49 95.09L334.55 95.59L334.60 96.04M334.78 97.64L334.83 98.14L334.88 98.64L334.93 99.09M335.10 100.69L335.15 101.19L335.20 101.69L335.24 102.14M335.40 103.74L335.45 104.24L335.49 104.74L335.54 105.19M335.69 106.79L335.73 107.29L335.78 107.79L335.82 108.24M335.96 109.84L336.00 110.34L336.04 110.84L336.08 111.29M336.22 112.89L336.26 113.39L336.30 113.89L336.34 114.34M336.47 115.94L336.51 116.44L336.55 116.94L336.58 117.39M336.71 118.99L336.74 119.49L336.78 119.99L336.82 120.44M336.94 122.04L336.97 122.54L337.01 123.04L337.04 123.49M337.16 125.09L337.19 125.59L337.23 126.09L337.26 126.54M337.37 128.14L337.41 128.64L337.44 129.14L337.47 129.59M337.58 131.19L337.62 131.69L337.65 132.19L337.68 132.64M337.78 134.24L337.82 134.74L337.85 135.24L337.88 135.69M337.98 137.29L338.01 137.79L338.04 138.29L338.07 138.74M338.17 140.34L338.20 140.84L338.23 141.34L338.26 141.79M338.36 143.39L338.39 143.89L338.42 144.39L338.44 144.84M338.54 146.44L338.57 146.94L338.60 147.44L338.62 147.89M338.72 149.49L338.75 149.99L338.77 150.49L338.80 150.94M338.89 152.54L338.92 153.04L338.95 153.54L338.97 153.99M339.06 155.59L339.09 156.09L339.12 156.59L339.14 157.04M339.23 158.64L339.25 159.14L339.28 159.64L339.31 160.09M339.39 161.69L339.42 162.19L339.44 162.69L339.47 163.14M339.55 164.74L339.58 165.24L339.60 165.74L339.63 166.19M339.71 167.79L339.73 168.29L339.76 168.79L339.78 169.24M339.86 170.84L339.89 171.34L339.91 171.84L339.94 172.29M340.02 173.89L340.04 174.39L340.07 174.89L340.09 175.34M340.17 176.94L340.19 177.44L340.21 177.94L340.24 178.39M340.31 179.99L340.34 180.49L340.36 180.99L340.38 181.44M340.46 183.04L340.48 183.54L340.51 184.04L340.53 184.49M340.60 186.09L340.63 186.59L340.65 187.09L340.67 187.54M340.74 189.14L340.77 189.64L340.79 190.14L340.81 190.59M340.88 192.19L340.91 192.69L340.93 193.19L340.95 193.64M341.02 195.24L341.04 195.74L341.07 196.24L341.09 196.69M341.16 198.29L341.18 198.79L341.20 199.29L341.22 199.74M341.29 201.34L341.31 201.84L341.34 202.34L341.36 202.79M341.43 204.39L341.45 204.89L341.47 205.39L341.49 205.84M341.56 207.44L341.58 207.94L341.60 208.44L341.62 208.89M341.69 210.49L341.71 210.99L341.73 211.49L341.75 211.94M341.82 213.54L341.84 214.04L341.86 214.54L341.88 214.99M341.94 216.59L341.97 217.09L341.99 217.59L342.00 218.04M342.07 219.64L342.09 220.14L342.11 220.64L342.13 221.09M342.20 222.69L342.22 223.19L342.24 223.69L342.26 224.14M342.32 225.74L342.34 226.24L342.36 226.74L342.38 227.19M342.44 228.79L342.46 229.29L342.48 229.79L342.50 230.24M342.57 231.84L342.59 232.34L342.61 232.84L342.62 233.29M342.69 234.89L342.71 235.39L342.73 235.89L342.74 236.34M342.81 237.94L342.83 238.44L342.85 238.94L342.86 239.39M342.93 240.99L342.95 241.49L342.97 241.99L342.98 242.44M343.04 244.04L343.06 244.54L343.08 245.04L343.10 245.49M343.16 247.09L343.18 247.59L343.20 248.09L343.22 248.54M343.28 250.14L343.30 250.64L343.32 251.14L343.33 251.59M343.39 253.19L343.41 253.69L343.43 254.19L343.45 254.64" stroke="#0000ff" stroke-width="1.7"/>
<path transform="translate(0 0)" d="M217.95 57.85L218.45 57.85L218.95 57.85L219.40 57.85M221.00 57.85L221.50 57.85L222.00 57.85L222.45 57.85M224.05 57.85L224.55 57.85L225.05 57.85L225.50 57.85M227.10 57.85L227.60 57.85L228.10 57.85L228.55 57.85M230.15 57.85L230.65 57.85L231.15 57.85L231.60 57.85M233.20 57.85L233.70 57.85L234.20 57.85L234.65 57.85M236.25 57.85L236.75 57.85L237.25 57.85L237.70 57.85M239.30 57.85L239.80 57.85L240.30 57.85L240.75 57.85M242.35 57.85L242.85 57.85L243.35 57.85L243.80 57.85M245.40 57.85L245.90 57.85L246.40 57.85L246.85 57.85M248.45 57.85L248.95 57.85L249.45 57.85L249.90 57.85M251.50 57.85L252.00 57.85L252.50 57.85L252.95 57.85M254.55 57.85L255.05 57.85L255.55 57.85L256.00 57.85M257.60 57.85L258.10 57.85L258.60 57.86L259.05 57.86M260.65 57.86L261.15 57.86L261.65 57.86L262.10 57.86M263.70 57.86L264.20 57.86L264.70 57.86L265.15 57.86M266.75 57.86L267.25 57.86L267.75 57.86L268.20 57.86M269.80 57.86L270.30 57.86L270.80 57.87L271.25 57.87M272.85 57.87L273.35 57.87L273.85 57.87L274.30 57.87M275.90 57.88L276.40 57.88L276.90 57.88L277.35 57.88M278.95 57.88L279.45 57.89L279.95 57.89L280.40 57.89M282.00 57.89L282.50 57.90L283.00 57.90L283.45 57.90M285.05 57.91L285.55 57.91L286.05 57.92L286.50 57.92M288.10 57.93L288.60 57.93L289.10 57.94L289.55 57.94M291.15 57.96L291.65 57.96L292.15 57.97L292.60 57.97M294.20 57.99L294.70 58.00L295.20 58.01L295.65 58.01M297.25 58.04L297.75 58.05L298.25 58.06L298.70 58.07M300.30 58.10L300.80 58.11L301.30 58.12L301.75 58.14M303.35 58.18L303.85 58.20L304.35 58.22L304.80 58.23M306.40 58.29L306.90 58.32L307.40 58.34L307.85 58.36M309.45 58.44L309.95 58.47L310.45 58.50L310.90 58.53M312.50 58.64L313.00 58.67L313.50 58.71L313.95 58.75M315.55 58.90L316.05 58.95L316.55 59.00L317.00 59.05M318.60 59.24L319.10 59.31L319.60 59.38L320.05 59.45M321.65 59.71L322.15 59.80L322.65 59.89L323.10 59.98M324.70 60.32L325.20 60.44L325.70 60.56L326.15 60.68M327.75 61.14L328.25 61.30L328.75 61.46L329.20 61.62M330.80 62.25L331.30 62.52L331.80 62.85L332.25 63.21M333.67 64.77L334.01 65.27L334.31 65.77L334.56 66.22M335.31 67.82L335.51 68.32L335.70 68.82L335.86 69.27M336.37 70.87L336.51 71.37L336.65 71.87L336.77 72.32M337.15 73.92L337.26 74.42L337.37 74.92L337.46 75.37M337.77 76.97L337.86 77.47L337.95 77.97L338.03 78.42M338.29 80.02L338.37 80.52L338.44 81.02L338.51 81.47M338.74 83.07L338.80 83.57L338.87 84.07L338.93 84.52M339.13 86.12L339.19 86.62L339.25 87.12L339.30 87.57M339.48 89.17L339.53 89.67L339.58 90.17L339.63 90.62M339.79 92.22L339.84 92.72L339.89 93.22L339.93 93.67M340.08 95.27L340.13 95.77L340.17 96.27L340.21 96.72M340.35 98.32L340.39 98.82L340.43 99.32L340.47 99.77M340.59 101.37L340.63 101.87L340.67 102.37L340.71 102.82M340.83 104.42L340.86 104.92L340.90 105.42L340.93 105.87M341.04 107.47L341.08 107.97L341.11 108.47L341.14 108.92M341.25 110.52L341.28 111.02L341.32 111.52L341.35 111.97M341.45 113.57L341.48 114.07L341.51 114.57L341.54 115.02M341.63 116.62L341.66 117.12L341.69 117.62L341.72 118.07M341.81 119.67L341.84 120.17L341.87 120.67L341.89 121.12M341.98 122.72L342.01 123.22L342.04 123.72L342.06 124.17M342.15 125.77L342.17 126.27L342.20 126.77L342.22 127.22M342.31 128.82L342.33 129.32L342.36 129.82L342.38 130.27M342.46 131.87L342.49 132.37L342.51 132.87L342.53 133.32M342.61 134.92L342.63 135.42L342.66 135.92L342.68 136.37M342.75 137.97L342.78 138.47L342.80 138.97L342.82 139.42M342.89 141.02L342.92 141.52L342.94 142.02L342.96 142.47M343.03 144.07L343.05 144.57L343.08 145.07L343.10 145.52M343.17 147.12L343.19 147.62L343.21 148.12L343.23 148.57M343.30 150.17L343.32 150.67L343.34 151.17L343.36 151.62M343.42 153.22L343.44 153.72L343.47 154.22L343.48 154.67M343.55 156.27L343.57 156.77L343.59 157.27L343.61 157.72M343.67 159.32L343.69 159.82L343.71 160.32L343.73 160.77M343.79 162.37L343.81 162.87L343.83 163.37L343.85 163.82M343.91 165.42L343.93 165.92L343.95 166.42L343.97 166.87M344.03 168.47L344.05 168.97L344.07 169.47L344.09 169.92M344.15 171.52L344.16 172.02L344.18 172.52L344.20 172.97M344.26 174.57L344.28 175.07L344.30 175.57L344.31 176.02M344.37 177.62L344.39 178.12L344.41 178.62L344.43 179.07M344.49 180.67L344.50 181.17L344.52 181.67L344.54 182.12M344.60 183.72L344.62 184.22L344.63 184.72L344.65 185.17M344.71 186.77L344.73 187.27L344.74 187.77L344.76 188.22M344.82 189.82L344.84 190.32L344.85 190.82L344.87 191.27M344.93 192.87L344.94 193.37L344.96 193.87L344.98 194.32M345.04 195.92L345.05 196.42L345.07 196.92L345.09 197.37M345.14 198.97L345.16 199.47L345.18 199.97L345.20 200.42M345.25 202.02L345.27 202.52L345.29 203.02L345.30 203.47M345.36 205.07L345.38 205.57L345.40 206.07L345.41 206.52M345.47 208.12L345.49 208.62L345.51 209.12L345.52 209.57M345.58 211.17L345.60 211.67L345.61 212.17L345.63 212.62M345.69 214.22L345.71 214.72L345.72 215.22L345.74 215.67M345.80 217.27L345.82 217.77L345.84 218.27L345.85 218.72M345.91 220.32L345.93 220.82L345.95 221.32L345.96 221.77M346.02 223.37L346.04 223.87L346.06 224.37L346.08 224.82M346.14 226.42L346.16 226.92L346.18 227.42L346.19 227.87M346.25 229.47L346.27 229.97L346.29 230.47L346.31 230.92M346.37 232.52L346.39 233.02L346.41 233.52L346.43 233.97M346.49 235.57L346.51 236.07L346.53 236.57L346.55 237.02M346.62 238.62L346.64 239.12L346.66 239.62L346.68 240.07M346.75 241.67L346.77 242.17L346.79 242.67L346.81 243.12M346.88 244.72L346.90 245.22L346.92 245.72L346.94 246.17M347.02 247.77L347.04 248.27L347.06 248.77L347.09 249.22M347.16 250.82L347.19 251.32L347.21 251.82L347.24 252.27M347.32 253.87L347.34 254.37L347.37 254.87L347.39 255.32" stroke="#0000ff" stroke-width="1.7"/>
<path d="M216.95 58.15 L216.95 58.15 L217.21 58.15 L217.47 58.15 L217.73 58.15 L217.99 58.15 L218.25 58.15 L218.51 58.15 L218.77 58.15 L219.03 58.15 L219.28 58.15 L219.54 58.15 L219.80 58.15 L220.06 58.15 L220.32 58.15 L220.58 58.15 L220.84 58.15 L221.10 58.15 L221.36 58.15 L221.62 58.15 L221.88 58.15 L222.14 58.15 L222.39 58.15 L222.65 58.15 L222.91 58.15 L223.17 58.15 L223.43 58.15 L223.69 58.15 L223.95 58.15 L224.21 58.15 L224.47 58.15 L224.73 58.15 L224.99 58.15 L225.25 58.15 L225.50 58.15 L225.76 58.15 L226.02 58.15 L226.28 58.15 L226.54 58.15 L226.80 58.15 L227.06 58.15 L227.32 58.15 L227.58 58.15 L227.84 58.15 L228.10 58.15 L228.36 58.15 L228.61 58.15 L228.87 58.15 L229.13 58.15 L229.39 58.15 L229.65 58.15 L229.91 58.15 L230.17 58.15 L230.43 58.15 L230.69 58.15 L230.95 58.15 L231.21 58.15 L231.47 58.15 L231.73 58.15 L231.98 58.15 L232.24 58.15 L232.50 58.15 L232.76 58.15 L233.02 58.15 L233.28 58.15 L233.54 58.15 L233.80 58.15 L234.06 58.15 L234.32 58.15 L234.58 58.15 L234.84 58.15 L235.09 58.15 L235.35 58.15 L235.61 58.15 L235.87 58.15 L236.13 58.15 L236.39 58.15 L236.65 58.15 L236.91 58.15 L237.17 58.15 L237.43 58.15 L237.69 58.15 L237.95 58.15 L238.20 58.15 L238.46 58.15 L238.72 58.15 L238.98 58.15 L239.24 58.15 L239.50 58.15 L239.76 58.15 L240.02 58.15 L240.28 58.15 L240.54 58.15 L240.80 58.15 L241.06 58.15 L241.32 58.15 L241.57 58.15 L241.83 58.15 L242.09 58.15 L242.35 58.15 L242.61 58.15 L242.87 58.15 L243.13 58.15 L243.39 58.15 L243.65 58.15 L243.91 58.15 L244.17 58.15 L244.43 58.15 L244.68 58.15 L244.94 58.15 L245.20 58.15 L245.46 58.15 L245.72 58.15 L245.98 58.15 L246.24 58.15 L246.50 58.15 L246.76 58.15 L247.02 58.15 L247.28 58.15 L247.54 58.15 L247.79 58.15 L248.05 58.15 L248.31 58.15 L248.57 58.15 L248.83 58.15 L249.09 58.15 L249.35 58.15 L249.61 58.15 L249.87 58.15 L250.13 58.15 L250.39 58.15 L250.65 58.15 L250.90 58.15 L251.16 58.15 L251.42 58.15 L251.68 58.15 L251.94 58.15 L252.20 58.15 L252.46 58.15 L252.72 58.15 L252.98 58.15 L253.24 58.15 L253.50 58.15 L253.76 58.15 L254.02 58.15 L254.27 58.15 L254.53 58.15 L254.79 58.15 L255.05 58.15 L255.31 58.15 L255.57 58.15 L255.83 58.15 L256.09 58.15 L256.35 58.15 L256.61 58.15 L256.87 58.15 L257.13 58.15 L257.38 58.15 L257.64 58.15 L257.90 58.15 L258.16 58.15 L258.42 58.15 L258.68 58.15 L258.94 58.15 L259.20 58.15 L259.46 58.15 L259.72 58.15 L259.98 58.15 L260.24 58.15 L260.49 58.15 L260.75 58.15 L261.01 58.15 L261.27 58.15 L261.53 58.15 L261.79 58.15 L262.05 58.15 L262.31 58.15 L262.57 58.15 L262.83 58.15 L263.09 58.15 L263.35 58.15 L263.60 58.15 L263.86 58.15 L264.12 58.15 L264.38 58.15 L264.64 58.15 L264.90 58.15 L265.16 58.15 L265.42 58.15 L265.68 58.15 L265.94 58.15 L266.20 58.15 L266.46 58.15 L266.72 58.15 L266.97 58.15 L267.23 58.15 L267.49 58.15 L267.75 58.15 L268.01 58.15 L268.27 58.15 L268.53 58.15 L268.79 58.15 L269.05 58.15 L269.31 58.15 L269.57 58.15 L269.83 58.15 L270.08 58.15 L270.34 58.15 L270.60 58.15 L270.86 58.15 L271.12 58.15 L271.38 58.15 L271.64 58.15 L271.90 58.15 L272.16 58.15 L272.42 58.15 L272.68 58.15 L272.94 58.15 L273.19 58.15 L273.45 58.15 L273.71 58.15 L273.97 58.15 L274.23 58.15 L274.49 58.15 L274.75 58.15 L275.01 58.15 L275.27 58.15 L275.53 58.15 L275.79 58.15 L276.05 58.15 L276.31 58.15 L276.56 58.15 L276.82 58.15 L277.08 58.15 L277.34 58.16 L277.60 58.16 L277.86 58.16 L278.12 58.16 L278.38 58.16 L278.64 58.16 L278.90 58.16 L279.16 58.16 L279.42 58.16 L279.67 58.16 L279.93 58.16 L280.19 58.16 L280.45 58.16 L280.71 58.16 L280.97 58.16 L281.23 58.16 L281.49 58.16 L281.75 58.16 L282.01 58.16 L282.27 58.16 L282.53 58.16 L282.78 58.16 L283.04 58.16 L283.30 58.16 L283.56 58.16 L283.82 58.16 L284.08 58.16 L284.34 58.16 L284.60 58.16 L284.86 58.16 L285.12 58.16 L285.38 58.16 L285.64 58.16 L285.89 58.16 L286.15 58.16 L286.41 58.16 L286.67 58.17 L286.93 58.17 L287.19 58.17 L287.45 58.17 L287.71 58.17 L287.97 58.17 L288.23 58.17 L288.49 58.17 L288.75 58.17 L289.01 58.17 L289.26 58.17 L289.52 58.17 L289.78 58.17 L290.04 58.17 L290.30 58.17 L290.56 58.17 L290.82 58.18 L291.08 58.18 L291.34 58.18 L291.60 58.18 L291.86 58.18 L292.12 58.18 L292.37 58.18 L292.63 58.18 L292.89 58.18 L293.15 58.18 L293.41 58.18 L293.67 58.19 L293.93 58.19 L294.19 58.19 L294.45 58.19 L294.71 58.19 L294.97 58.19 L295.23 58.19 L295.48 58.19 L295.74 58.20 L296.00 58.20 L296.26 58.20 L296.52 58.20 L296.78 58.20 L297.04 58.20 L297.30 58.20 L297.56 58.21 L297.82 58.21 L298.08 58.21 L298.34 58.21 L298.59 58.21 L298.85 58.22 L299.11 58.22 L299.37 58.22 L299.63 58.22 L299.89 58.22 L300.15 58.23 L300.41 58.23 L300.67 58.23 L300.93 58.23 L301.19 58.24 L301.45 58.24 L301.71 58.24 L301.96 58.25 L302.22 58.25 L302.48 58.25 L302.74 58.25 L303.00 58.26 L303.26 58.26 L303.52 58.26 L303.78 58.27 L304.04 58.27 L304.30 58.28 L304.56 58.28 L304.82 58.28 L305.07 58.29 L305.33 58.29 L305.59 58.30 L305.85 58.30 L306.11 58.31 L306.37 58.31 L306.63 58.32 L306.89 58.32 L307.15 58.33 L307.41 58.33 L307.67 58.34 L307.93 58.34 L308.18 58.35 L308.44 58.36 L308.70 58.36 L308.96 58.37 L309.22 58.38 L309.48 58.38 L309.74 58.39 L310.00 58.40 L310.26 58.41 L310.52 58.41 L310.78 58.42 L311.04 58.43 L311.29 58.44 L311.55 58.45 L311.81 58.46 L312.07 58.47 L312.33 58.48 L312.59 58.49 L312.85 58.50 L313.11 58.51 L313.37 58.52 L313.63 58.53 L313.89 58.54 L314.15 58.56 L314.41 58.57 L314.66 58.58 L314.92 58.60 L315.18 58.61 L315.44 58.62 L315.70 58.64 L315.96 58.65 L316.22 58.67 L316.48 58.69 L316.74 58.70 L317.00 58.72 L317.26 58.74 L317.52 58.76 L317.77 58.78 L318.03 58.80 L318.29 58.82 L318.55 58.84 L318.81 58.86 L319.07 58.88 L319.33 58.90 L319.59 58.93 L319.85 58.95 L320.11 58.98 L320.37 59.00 L320.63 59.03 L320.88 59.06 L321.14 59.09 L321.40 59.12 L321.66 59.15 L321.92 59.18 L322.18 59.21 L322.44 59.24 L322.70 59.28 L322.96 59.31 L323.22 59.35 L323.48 59.39 L323.74 59.43 L324.00 59.47 L324.25 59.51 L324.51 59.55 L324.77 59.59 L325.03 59.64 L325.29 59.69 L325.55 59.73 L325.81 59.78 L326.07 59.83 L326.33 59.89 L326.59 59.94 L326.85 60.00 L327.11 60.06 L327.36 60.11 L327.62 60.18 L327.88 60.24 L328.14 60.31 L328.40 60.37 L328.66 60.44 L328.92 60.51 L329.18 60.59 L329.44 60.67 L329.70 60.75 L329.96 60.83 L330.22 60.91 L330.47 61.00 L330.73 61.09 L330.99 61.18 L331.25 61.28 L331.51 61.38 L331.77 61.49 L332.03 61.60 L332.29 61.71 L332.55 61.82 L332.81 61.94 L333.07 62.07 L333.33 62.20 L333.58 62.33 L333.84 62.47 L334.10 62.62 L334.36 62.77 L334.62 62.92 L334.88 63.09 L335.14 63.25 L335.40 63.43 L335.66 63.61 L335.92 63.80 L336.18 64.00 L336.44 64.21 L336.70 64.42 L336.95 64.64 L337.21 64.88 L337.47 65.12 L337.73 65.37 L337.99 65.64 L338.23 65.89 L338.46 66.15 L338.70 66.42 L338.91 66.67 L339.12 66.93 L339.33 67.20 L339.52 67.45 L339.71 67.71 L339.90 67.98 L340.09 68.26 L340.28 68.54 L340.44 68.80 L340.61 69.06 L340.77 69.34 L340.94 69.62 L341.10 69.91 L341.24 70.17 L341.38 70.43 L341.53 70.70 L341.67 70.97 L341.81 71.26 L341.95 71.55 L342.09 71.85 L342.21 72.10 L342.33 72.37 L342.44 72.63 L342.56 72.91 L342.68 73.19 L342.80 73.47 L342.92 73.76 L343.03 74.06 L343.15 74.37 L343.27 74.68 L343.36 74.94 L343.46 75.20 L343.55 75.46 L343.65 75.73 L343.74 76.01 L343.83 76.29 L343.93 76.58 L344.02 76.87 L344.12 77.16 L344.21 77.47 L344.31 77.78 L344.40 78.09 L344.49 78.41 L344.59 78.74 L344.68 79.07 L344.75 79.32 L344.82 79.58 L344.89 79.84 L344.97 80.11 L345.04 80.38 L345.11 80.65 L345.18 80.93 L345.25 81.21 L345.32 81.49 L345.39 81.78 L345.46 82.08 L345.53 82.38 L345.60 82.68 L345.67 82.99 L345.74 83.30 L345.81 83.62 L345.88 83.94 L345.96 84.26 L346.03 84.59 L346.10 84.93 L346.17 85.27 L346.24 85.62 L346.31 85.97 L346.38 86.33 L346.45 86.69 L346.52 87.06 L346.59 87.43 L346.64 87.69 L346.69 87.94 L346.73 88.20 L346.78 88.46 L346.83 88.72 L346.87 88.99 L346.92 89.26 L346.97 89.53 L347.02 89.80 L347.06 90.08 L347.11 90.36 L347.16 90.64 L347.20 90.93 L347.25 91.22 L347.30 91.51 L347.35 91.80 L347.39 92.10 L347.44 92.40 L347.49 92.71 L347.53 93.02 L347.58 93.33 L347.63 93.64 L347.68 93.96 L347.72 94.28 L347.77 94.60 L347.82 94.93 L347.86 95.26 L347.91 95.60 L347.96 95.94 L348.00 96.28 L348.05 96.62 L348.10 96.97 L348.15 97.33 L348.19 97.68 L348.24 98.05 L348.29 98.41 L348.33 98.78 L348.38 99.15 L348.43 99.53 L348.48 99.91 L348.52 100.30 L348.57 100.69 L348.62 101.08 L348.66 101.48 L348.71 101.88 L348.76 102.29 L348.81 102.70 L348.85 103.11 L348.90 103.53 L348.95 103.96 L348.99 104.39 L349.04 104.82 L349.09 105.26 L349.14 105.71 L349.18 106.16 L349.23 106.61 L349.28 107.07 L349.32 107.54 L349.37 108.01 L349.42 108.48 L349.47 108.96 L349.51 109.45 L349.56 109.94 L349.61 110.44 L349.63 110.69 L349.65 110.94 L349.68 111.19 L349.70 111.45 L349.73 111.70 L349.75 111.96 L349.77 112.22 L349.80 112.48 L349.82 112.74 L349.84 113.01 L349.87 113.27 L349.89 113.54 L349.91 113.81 L349.94 114.08 L349.96 114.35 L349.98 114.62 L350.01 114.89 L350.03 115.17 L350.05 115.45 L350.08 115.73 L350.10 116.01 L350.13 116.29 L350.15 116.57 L350.17 116.86 L350.20 117.15 L350.22 117.44 L350.24 117.73 L350.27 118.02 L350.29 118.31 L350.31 118.61 L350.34 118.91 L350.36 119.20 L350.38 119.51 L350.41 119.81 L350.43 120.11 L350.46 120.42 L350.48 120.73 L350.50 121.04 L350.53 121.35 L350.55 121.66 L350.57 121.98 L350.60 122.29 L350.62 122.61 L350.64 122.93 L350.67 123.25 L350.69 123.58 L350.71 123.90 L350.74 124.23 L350.76 124.56 L350.79 124.89 L350.81 125.23 L350.83 125.56 L350.86 125.90 L350.88 126.24 L350.90 126.58 L350.93 126.93 L350.95 127.27 L350.97 127.62 L351.00 127.97 L351.02 128.32 L351.04 128.68 L351.07 129.03 L351.09 129.39 L351.12 129.75 L351.14 130.12 L351.16 130.48 L351.19 130.85 L351.21 131.22 L351.23 131.59 L351.26 131.96 L351.28 132.34 L351.30 132.71 L351.33 133.09 L351.35 133.48 L351.37 133.86 L351.40 134.25 L351.42 134.64 L351.45 135.03 L351.47 135.42 L351.49 135.82 L351.52 136.22 L351.54 136.62 L351.56 137.02 L351.59 137.43 L351.61 137.84 L351.63 138.25 L351.66 138.66 L351.68 139.08 L351.70 139.50 L351.73 139.92 L351.75 140.34 L351.77 140.77 L351.80 141.20 L351.82 141.63 L351.85 142.06 L351.87 142.50 L351.89 142.94 L351.92 143.38 L351.94 143.82 L351.96 144.27 L351.99 144.72 L352.01 145.17 L352.03 145.63 L352.06 146.09 L352.08 146.55 L352.10 147.01 L352.13 147.48 L352.15 147.95 L352.18 148.42 L352.20 148.90 L352.22 149.37 L352.25 149.86 L352.27 150.34 L352.29 150.83 L352.32 151.32 L352.34 151.81 L352.36 152.31 L352.39 152.80 L352.41 153.31 L352.43 153.81 L352.46 154.32 L352.48 154.83 L352.51 155.35 L352.53 155.87 L352.55 156.39 L352.58 156.91 L352.60 157.44 L352.62 157.97 L352.65 158.50 L352.67 159.04 L352.69 159.58 L352.72 160.13 L352.74 160.68 L352.76 161.23 L352.79 161.78 L352.81 162.34 L352.84 162.90 L352.86 163.47 L352.88 164.03 L352.91 164.61 L352.93 165.18 L352.95 165.76 L352.98 166.34 L353.00 166.93 L353.02 167.52 L353.05 168.12 L353.07 168.71 L353.09 169.32 L353.12 169.92 L353.14 170.53 L353.17 171.14 L353.19 171.76 L353.21 172.38 L353.24 173.01 L353.26 173.64 L353.28 174.27 L353.31 174.91 L353.33 175.55 L353.35 176.19 L353.38 176.84 L353.40 177.49 L353.42 178.15 L353.45 178.81 L353.47 179.48 L353.49 180.15 L353.52 180.82 L353.54 181.50 L353.57 182.18 L353.59 182.87 L353.61 183.56 L353.64 184.26 L353.66 184.96 L353.68 185.67 L353.71 186.38 L353.73 187.09 L353.75 187.81 L353.78 188.53 L353.80 189.26 L353.82 189.99 L353.85 190.73 L353.87 191.47 L353.90 192.22 L353.92 192.97 L353.94 193.73 L353.97 194.49 L353.99 195.26 L354.01 196.03 L354.04 196.81 L354.06 197.59 L354.08 198.38 L354.11 199.17 L354.13 199.97 L354.15 200.77 L354.18 201.58 L354.20 202.39 L354.23 203.21 L354.25 204.03 L354.27 204.86 L354.30 205.70 L354.32 206.54 L354.34 207.38 L354.37 208.23 L354.39 209.09 L354.41 209.95 L354.44 210.82 L354.46 211.69 L354.48 212.57 L354.51 213.46 L354.53 214.35 L354.56 215.25 L354.58 216.15 L354.60 217.06 L354.63 217.97 L354.65 218.90 L354.67 219.82 L354.70 220.76 L354.72 221.70 L354.74 222.64 L354.77 223.59 L354.79 224.55 L354.81 225.52 L354.84 226.49 L354.86 227.47 L354.89 228.45 L354.91 229.44 L354.93 230.44 L354.96 231.44 L354.98 232.45 L355.00 233.47 L355.03 234.50 L355.05 235.53 L355.06 236.00" stroke="#000" stroke-width="1.85"/>
</g>
<rect x="51.3" y="16.3" width="145.00" height="239.90" fill="none" stroke="#000" stroke-width="0.95"/>
<path d="M65.65 256.2v-2.8M65.65 16.3v2.8M74.16 256.2v-2.8M74.16 16.3v2.8M80.20 256.2v-2.8M80.20 16.3v2.8M84.88 256.2v-2.8M84.88 16.3v2.8M88.71 256.2v-2.8M88.71 16.3v2.8M91.95 256.2v-2.8M91.95 16.3v2.8M94.75 256.2v-2.8M94.75 16.3v2.8M97.22 256.2v-2.8M97.22 16.3v2.8M99.43 256.2v-4.8M99.43 16.3v4.8M113.98 256.2v-2.8M113.98 16.3v2.8M122.49 256.2v-2.8M122.49 16.3v2.8M128.53 256.2v-2.8M128.53 16.3v2.8M133.22 256.2v-2.8M133.22 16.3v2.8M137.04 256.2v-2.8M137.04 16.3v2.8M140.28 256.2v-2.8M140.28 16.3v2.8M143.08 256.2v-2.8M143.08 16.3v2.8M145.56 256.2v-2.8M145.56 16.3v2.8M147.77 256.2v-4.8M147.77 16.3v4.8M162.32 256.2v-2.8M162.32 16.3v2.8M170.83 256.2v-2.8M170.83 16.3v2.8M176.87 256.2v-2.8M176.87 16.3v2.8M181.55 256.2v-2.8M181.55 16.3v2.8M185.38 256.2v-2.8M185.38 16.3v2.8M188.61 256.2v-2.8M188.61 16.3v2.8M191.42 256.2v-2.8M191.42 16.3v2.8M193.89 256.2v-2.8M193.89 16.3v2.8M51.3 237.90h2.8M196.3 237.90h-2.8M51.3 227.33h2.8M196.3 227.33h-2.8M51.3 219.84h2.8M196.3 219.84h-2.8M51.3 214.03h2.8M196.3 214.03h-2.8M51.3 209.28h2.8M196.3 209.28h-2.8M51.3 205.27h2.8M196.3 205.27h-2.8M51.3 201.79h2.8M196.3 201.79h-2.8M51.3 198.72h2.8M196.3 198.72h-2.8M51.3 195.97h4.8M196.3 195.97h-4.8M51.3 177.92h2.8M196.3 177.92h-2.8M51.3 167.36h2.8M196.3 167.36h-2.8M51.3 159.87h2.8M196.3 159.87h-2.8M51.3 154.05h2.8M196.3 154.05h-2.8M51.3 149.31h2.8M196.3 149.31h-2.8M51.3 145.29h2.8M196.3 145.29h-2.8M51.3 141.81h2.8M196.3 141.81h-2.8M51.3 138.74h2.8M196.3 138.74h-2.8M51.3 136.00h4.8M196.3 136.00h-4.8M51.3 117.95h2.8M196.3 117.95h-2.8M51.3 107.38h2.8M196.3 107.38h-2.8M51.3 99.89h2.8M196.3 99.89h-2.8M51.3 94.08h2.8M196.3 94.08h-2.8M51.3 89.33h2.8M196.3 89.33h-2.8M51.3 85.32h2.8M196.3 85.32h-2.8M51.3 81.84h2.8M196.3 81.84h-2.8M51.3 78.77h2.8M196.3 78.77h-2.8M51.3 76.03h4.8M196.3 76.03h-4.8M51.3 57.97h2.8M196.3 57.97h-2.8M51.3 47.41h2.8M196.3 47.41h-2.8M51.3 39.92h2.8M196.3 39.92h-2.8M51.3 34.10h2.8M196.3 34.10h-2.8M51.3 29.36h2.8M196.3 29.36h-2.8M51.3 25.34h2.8M196.3 25.34h-2.8M51.3 21.86h2.8M196.3 21.86h-2.8M51.3 18.79h2.8M196.3 18.79h-2.8" stroke="#000" stroke-width="0.9" fill="none"/>
<rect x="216.95" y="16.3" width="145.05" height="239.90" fill="none" stroke="#000" stroke-width="0.95"/>
<path d="M231.50 256.2v-2.8M231.50 16.3v2.8M240.01 256.2v-2.8M240.01 16.3v2.8M246.05 256.2v-2.8M246.05 16.3v2.8M250.73 256.2v-2.8M250.73 16.3v2.8M254.56 256.2v-2.8M254.56 16.3v2.8M257.80 256.2v-2.8M257.80 16.3v2.8M260.60 256.2v-2.8M260.60 16.3v2.8M263.07 256.2v-2.8M263.07 16.3v2.8M265.28 256.2v-4.8M265.28 16.3v4.8M279.83 256.2v-2.8M279.83 16.3v2.8M288.34 256.2v-2.8M288.34 16.3v2.8M294.38 256.2v-2.8M294.38 16.3v2.8M299.07 256.2v-2.8M299.07 16.3v2.8M302.89 256.2v-2.8M302.89 16.3v2.8M306.13 256.2v-2.8M306.13 16.3v2.8M308.93 256.2v-2.8M308.93 16.3v2.8M311.41 256.2v-2.8M311.41 16.3v2.8M313.62 256.2v-4.8M313.62 16.3v4.8M328.17 256.2v-2.8M328.17 16.3v2.8M336.68 256.2v-2.8M336.68 16.3v2.8M342.72 256.2v-2.8M342.72 16.3v2.8M347.40 256.2v-2.8M347.40 16.3v2.8M351.23 256.2v-2.8M351.23 16.3v2.8M354.46 256.2v-2.8M354.46 16.3v2.8M357.27 256.2v-2.8M357.27 16.3v2.8M359.74 256.2v-2.8M359.74 16.3v2.8M216.95 237.90h2.8M362.0 237.90h-2.8M216.95 227.33h2.8M362.0 227.33h-2.8M216.95 219.84h2.8M362.0 219.84h-2.8M216.95 214.03h2.8M362.0 214.03h-2.8M216.95 209.28h2.8M362.0 209.28h-2.8M216.95 205.27h2.8M362.0 205.27h-2.8M216.95 201.79h2.8M362.0 201.79h-2.8M216.95 198.72h2.8M362.0 198.72h-2.8M216.95 195.97h4.8M362.0 195.97h-4.8M216.95 177.92h2.8M362.0 177.92h-2.8M216.95 167.36h2.8M362.0 167.36h-2.8M216.95 159.87h2.8M362.0 159.87h-2.8M216.95 154.05h2.8M362.0 154.05h-2.8M216.95 149.31h2.8M362.0 149.31h-2.8M216.95 145.29h2.8M362.0 145.29h-2.8M216.95 141.81h2.8M362.0 141.81h-2.8M216.95 138.74h2.8M362.0 138.74h-2.8M216.95 136.00h4.8M362.0 136.00h-4.8M216.95 117.95h2.8M362.0 117.95h-2.8M216.95 107.38h2.8M362.0 107.38h-2.8M216.95 99.89h2.8M362.0 99.89h-2.8M216.95 94.08h2.8M362.0 94.08h-2.8M216.95 89.33h2.8M362.0 89.33h-2.8M216.95 85.32h2.8M362.0 85.32h-2.8M216.95 81.84h2.8M362.0 81.84h-2.8M216.95 78.77h2.8M362.0 78.77h-2.8M216.95 76.03h4.8M362.0 76.03h-4.8M216.95 57.97h2.8M362.0 57.97h-2.8M216.95 47.41h2.8M362.0 47.41h-2.8M216.95 39.92h2.8M362.0 39.92h-2.8M216.95 34.10h2.8M362.0 34.10h-2.8M216.95 29.36h2.8M362.0 29.36h-2.8M216.95 25.34h2.8M362.0 25.34h-2.8M216.95 21.86h2.8M362.0 21.86h-2.8M216.95 18.79h2.8M362.0 18.79h-2.8" stroke="#000" stroke-width="0.9" fill="none"/>
<g font-family="Liberation Sans, sans-serif" fill="#000">
<text x="51.50" y="271.90" font-size="12.2" text-anchor="middle">10<tspan font-size="6.7" dy="-6.1">15</tspan></text>
<text x="99.83" y="271.90" font-size="12.2" text-anchor="middle">10<tspan font-size="6.7" dy="-6.1">16</tspan></text>
<text x="148.17" y="271.90" font-size="12.2" text-anchor="middle">10<tspan font-size="6.7" dy="-6.1">17</tspan></text>
<text x="196.50" y="271.90" font-size="12.2" text-anchor="middle">10<tspan font-size="6.7" dy="-6.1">18</tspan></text>
<text x="217.15" y="271.90" font-size="12.2" text-anchor="middle">10<tspan font-size="6.7" dy="-6.1">15</tspan></text>
<text x="265.48" y="271.90" font-size="12.2" text-anchor="middle">10<tspan font-size="6.7" dy="-6.1">16</tspan></text>
<text x="313.82" y="271.90" font-size="12.2" text-anchor="middle">10<tspan font-size="6.7" dy="-6.1">17</tspan></text>
<text x="362.15" y="271.90" font-size="12.2" text-anchor="middle">10<tspan font-size="6.7" dy="-6.1">18</tspan></text>
<text x="46.60" y="260.50" font-size="12.2" text-anchor="end">10<tspan font-size="6.7" dy="-6.1">-7</tspan></text>
<text x="46.60" y="200.53" font-size="12.2" text-anchor="end">10<tspan font-size="6.7" dy="-6.1">-6</tspan></text>
<text x="46.60" y="140.55" font-size="12.2" text-anchor="end">10<tspan font-size="6.7" dy="-6.1">-5</tspan></text>
<text x="46.60" y="80.58" font-size="12.2" text-anchor="end">10<tspan font-size="6.7" dy="-6.1">-4</tspan></text>
<text x="46.60" y="20.60" font-size="12.2" text-anchor="end">10<tspan font-size="6.7" dy="-6.1">-3</tspan></text>
<text x="125.50" y="11.9" font-size="12.6" text-anchor="middle">Loop 1: fully shielded</text>
<text x="289.62" y="11.9" font-size="12.6" text-anchor="middle">Loop 1: unshielded</text>
<text x="123.60" y="290.6" font-size="12.5" text-anchor="middle">Radius (cm)</text>
<text x="289.28" y="290.6" font-size="12.5" text-anchor="middle">Radius (cm)</text>
<text transform="translate(11.9 127.7) rotate(-90)" font-size="13.0" text-anchor="middle">n(X) / n(H<tspan font-size="7.6" dy="5.2" dx="-0.8">2</tspan><tspan dy="-5.2" dx="0.4">)</tspan></text>
</g>
</svg>
</body></html>
